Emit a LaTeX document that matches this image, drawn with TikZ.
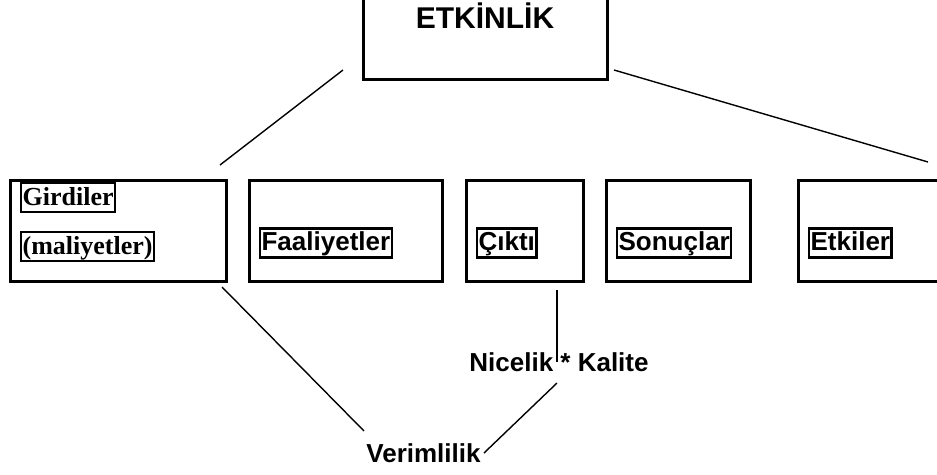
\documentclass[tikz,border=0pt]{standalone}
\usepackage{fontspec}
\setmainfont{Liberation Sans}
\newfontfamily\timesfont{Liberation Serif}
\begin{document}
\begin{tikzpicture}[x=1pt,y=-1pt,
  outerbox/.style={draw,line width=3pt},
  tagbox/.style={draw,line width=2.2pt,inner xsep=1.5pt,inner ysep=0pt,font=\fontsize{26}{30}\selectfont\bfseries,text height=22pt,text depth=7pt,anchor=west},
  serifbox/.style={tagbox,font=\fontsize{26}{30}\selectfont\timesfont\bfseries},
  lbl/.style={font=\fontsize{26}{30}\selectfont\bfseries,inner sep=0pt,anchor=base},
  conn/.style={line width=1.4pt}]
\useasboundingbox (0,0) rectangle (937,474);
% top box
\draw[outerbox] (363,-10) rectangle (607,79);
\node[font=\fontsize{30}{34}\selectfont\bfseries,inner sep=0pt,anchor=base] (top) at (485,28) {ETKİNLİK};
% row boxes
\draw[outerbox] (10,180) rectangle (226,281);
\draw[outerbox] (249,180) rectangle (442,281);
\draw[outerbox] (466,180) rectangle (583,281);
\draw[outerbox] (606,180) rectangle (750,281);
\draw[outerbox] (798,180) rectangle (950,281);
\node[serifbox] (gir) at (20,197.5) {Girdiler};
\node[serifbox] (mal) at (20,246.5) {(maliyetler)};
\node[tagbox] (faa) at (259,243) {Faaliyetler};
\node[tagbox] (cik) at (476,243) {Çıktı};
\node[tagbox] (son) at (616,243) {Sonuçlar};
\node[tagbox] (etk) at (808,243) {Etkiler};
% labels
\node[lbl] (nk) at (559,371) {Nicelik * Kalite};
\node[lbl] (ver) at (423.5,462) {Verimlilik};
% connector end points
\coordinate (a1) at (343,70);
\coordinate (a2) at (220,165);
\coordinate (b1) at (614,70);
\coordinate (b2) at (928,162);
\coordinate (c1) at (557,290);
\coordinate (c2) at (557,362);
\coordinate (d1) at (557,383);
\coordinate (d2) at (484,453);
\coordinate (e1) at (222,287);
\coordinate (e2) at (364,431);
\draw[conn] (a1) -- (a2);
\draw[conn] (b1) -- (b2);
\draw[conn] (c1) -- (c2);
\draw[conn] (d1) -- (d2);
\draw[conn] (e1) -- (e2);
\end{tikzpicture}
\end{document}
